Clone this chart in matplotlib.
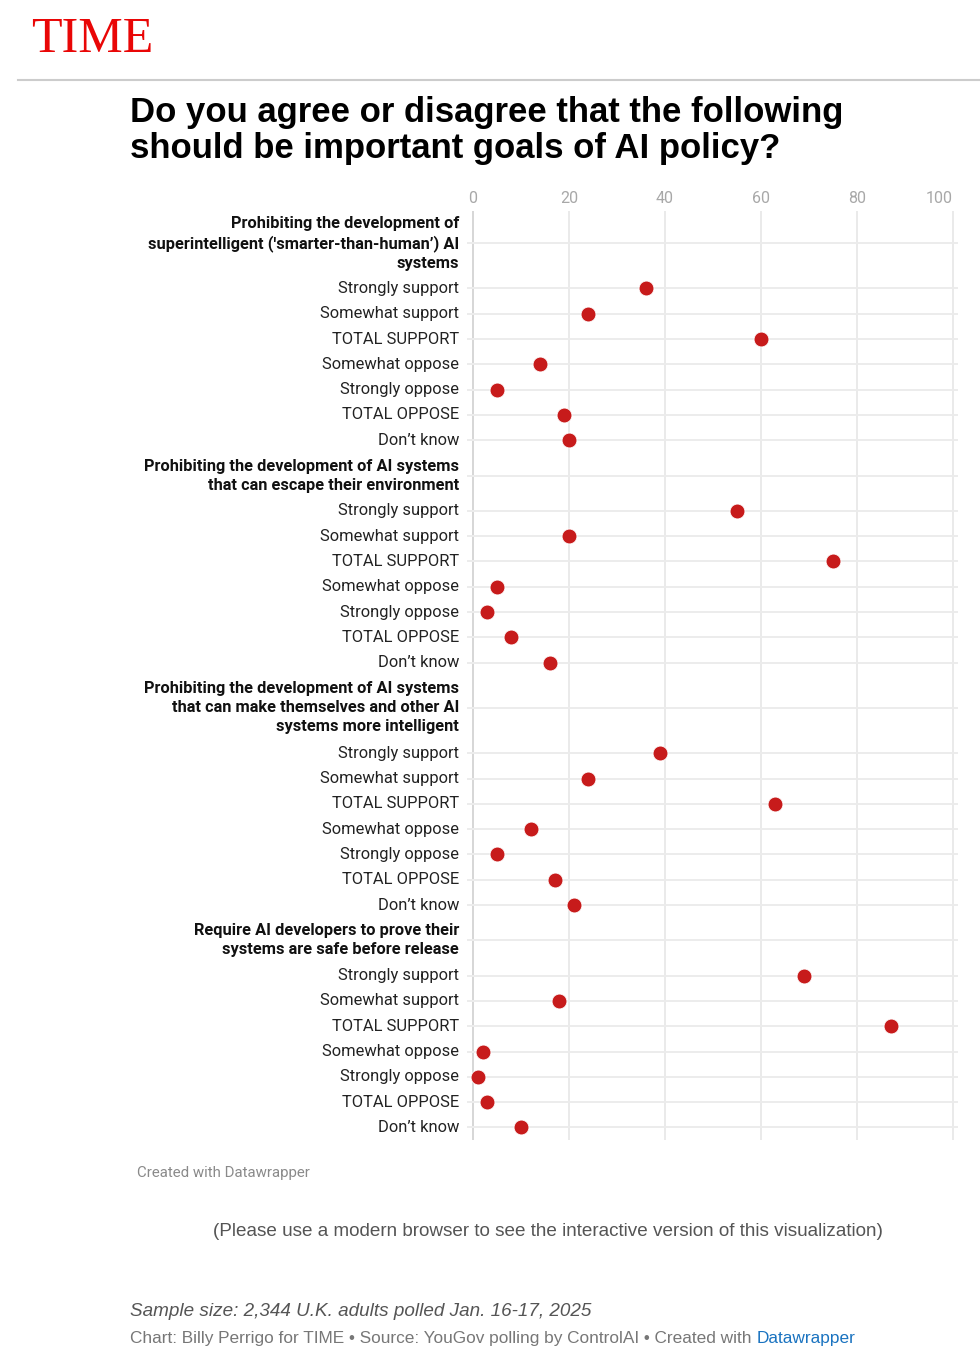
import matplotlib
matplotlib.use('Agg')
import matplotlib.pyplot as plt
from matplotlib.lines import Line2D

# ---------------- data ----------------
questions = [
    "Prohibiting the development of\nsuperintelligent ('smarter-than-human’) AI\nsystems",
    "Prohibiting the development of AI systems\nthat can escape their environment",
    "Prohibiting the development of AI systems\nthat can make themselves and other AI\nsystems more intelligent",
    "Require AI developers to prove their\nsystems are safe before release",
]
responses = ["Strongly support", "Somewhat support", "TOTAL SUPPORT",
             "Somewhat oppose", "Strongly oppose", "TOTAL OPPOSE", "Don’t know"]
q1_values = [36, 24, 60, 14, 5, 19, 20]
q2_values = [55, 20, 75, 5, 3, 8, 16]
q3_values = [39, 24, 63, 12, 5, 17, 21]
q4_values = [69, 18, 87, 2, 1, 3, 10]
all_values = [q1_values, q2_values, q3_values, q4_values]
x_ticks = [0, 20, 40, 60, 80, 100]

# ---------------- layout ----------------
W, H = 980, 1364
ROW_H = 25.3
LINE_H = 20.0
AX_TOP = 210.5

rows = []  # (label, value, is_header, height)
for q, vals in zip(questions, all_values):
    n = q.count("\n") + 1
    rows.append((q, None, True, ROW_H + LINE_H * (n - 1)))
    for r, v in zip(responses, vals):
        rows.append((r, v, False, ROW_H))

centers = []
cur = 0.0
for _, _, _, h in rows:
    centers.append(cur + h / 2)
    cur += h
total_h = cur

ax_left, ax_right = 467.0, 957.8
fig = plt.figure(figsize=(W / 100, H / 100), dpi=100)
ax = fig.add_axes([ax_left / W, 1 - (AX_TOP + total_h) / H,
                   (ax_right - ax_left) / W, total_h / H])
ax.set_xlim(-1.25, 101.0)
ax.set_ylim(total_h, 0)

for s in ax.spines.values():
    s.set_visible(False)

# grid lines
for t in x_ticks:
    ax.axvline(t, color="#cfcfcf" if t == 0 else "#e6e6e6", lw=1.2, zorder=1)
for c in centers:
    ax.axhline(c, color="#ececec", lw=1.4, zorder=1)

# dots
xs = [v for (_, v, hd, _) in rows if not hd]
ys = [c for (_, v, hd, _), c in zip(rows, centers) if not hd]
ax.scatter(xs, ys, s=115, color="#c71b1b", edgecolor="white", linewidth=0.6, zorder=3)

# labels
label_x = (459 - 473) / 4.8
for (lab, v, hd, h), c in zip(rows, centers):
    if hd:
        ax.text(label_x, c, lab, ha="right", va="center", fontsize=11.8,
                fontweight="bold", family="Roboto", color="#111111",
                linespacing=1.33, clip_on=False)
    else:
        ax.text(label_x, c, lab, ha="right", va="center", fontsize=11.85,
                family="Roboto", color="#222222", clip_on=False)

ax.set_yticks([])
ax.xaxis.tick_top()
ax.set_xticks(x_ticks)
ax.set_xticklabels([str(t) for t in x_ticks], family="Roboto", fontsize=11.5, color="#a8a8a8")
ax.get_xticklabels()[-1].set_horizontalalignment("right")
ax.tick_params(axis="x", length=0, pad=3.5)

# ---------------- header / footer ----------------
def fx(x):
    return x / W

def fy(y):
    return 1 - y / H

fig.text(fx(31), fy(40), "TIME", family="Liberation Serif", fontsize=36,
         color="#e90606", ha="left", va="center")
fig.add_artist(Line2D([fx(18), fx(980)], [fy(80), fy(80)], color="#cccccc", lw=1.5))

fig.text(fx(130), fy(130.5), "Do you agree or disagree that the following\nshould be important goals of AI policy?",
         family="Liberation Sans", fontweight="bold", fontsize=25, color="#000000",
         ha="left", va="center", linespacing=1.12)

fig.text(fx(137), fy(1173), "Created with Datawrapper", family="Roboto", fontsize=10.8,
         color="#8a8a8a", ha="left", va="center")
fig.text(fx(548), fy(1232), "(Please use a modern browser to see the interactive version of this visualization)",
         family="Liberation Sans", fontsize=13.55, color="#555555", ha="center", va="center")
fig.text(fx(130), fy(1312), "Sample size: 2,344 U.K. adults polled Jan. 16-17, 2025",
         family="Liberation Sans", style="italic", fontsize=13.55, color="#555555",
         ha="left", va="center")
t1 = fig.text(fx(130), fy(1339), "Chart: Billy Perrigo for TIME • Source: YouGov polling by ControlAI • Created with ",
              family="Liberation Sans", fontsize=12.45, color="#777777", ha="left", va="center")
fig.canvas.draw()
bb = t1.get_window_extent()
fig.text(bb.x1 / W, fy(1339), "Datawrapper", family="Liberation Sans", fontsize=12.45,
         color="#1a73c0", ha="left", va="center")

fig.savefig("out.png", dpi=100, facecolor="white")
